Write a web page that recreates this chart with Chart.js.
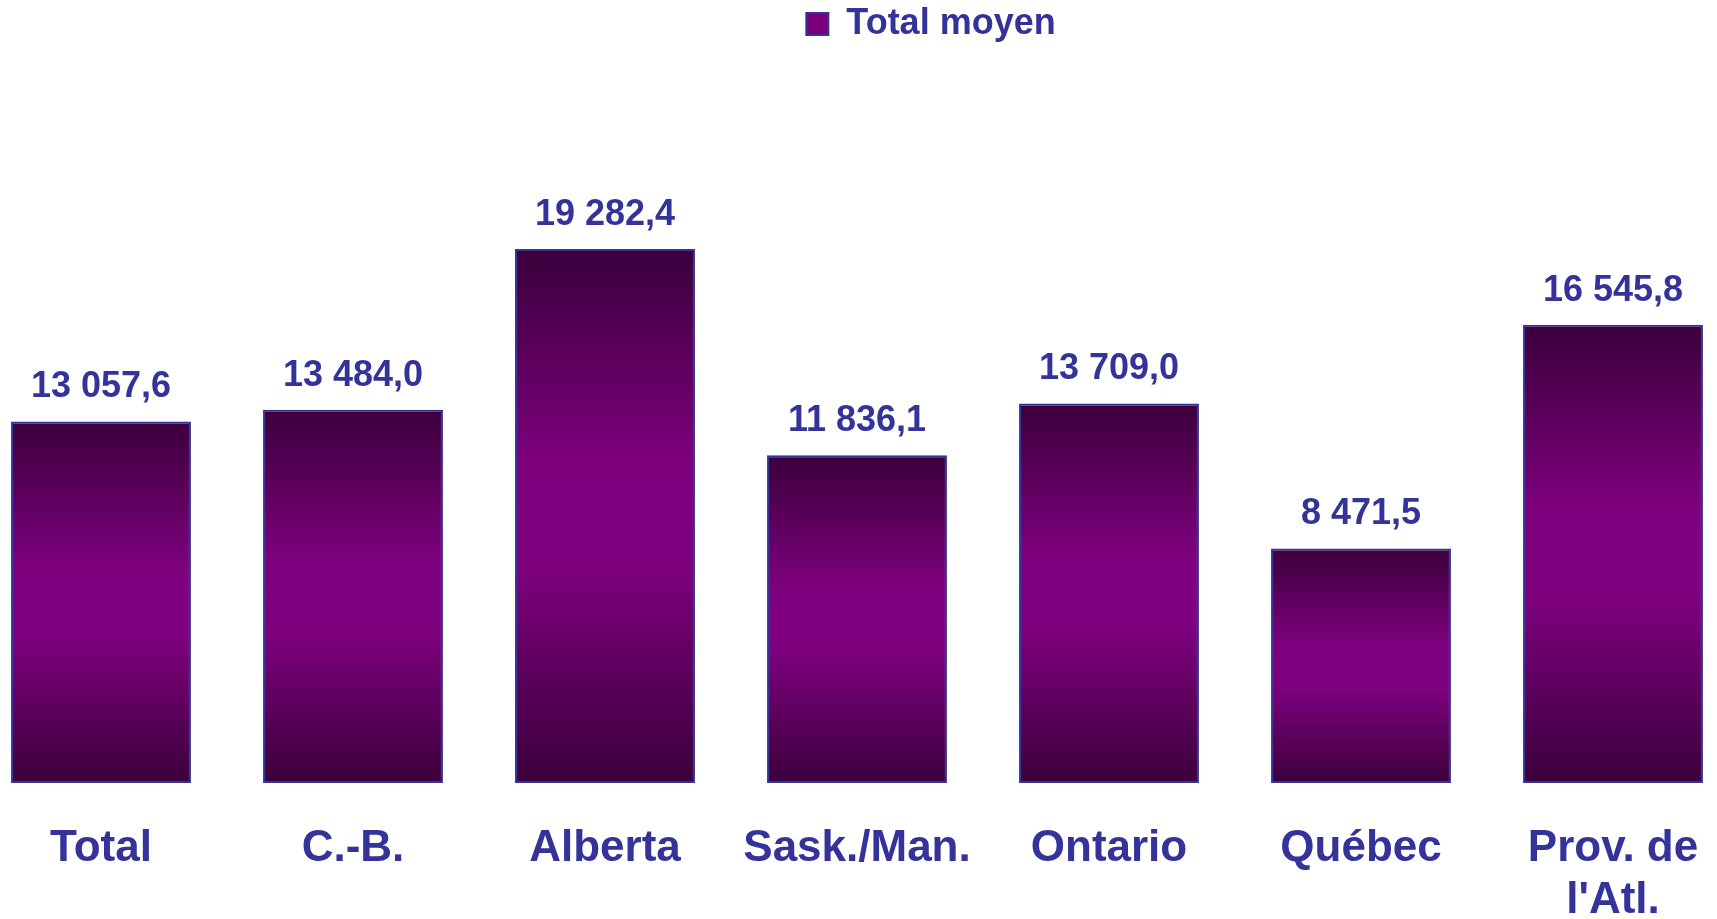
<!DOCTYPE html>
<html lang="fr">
<head>
<meta charset="utf-8">
<title>Total moyen</title>
<script src="https://cdn.jsdelivr.net/npm/chart.js@4.4.1/dist/chart.umd.min.js"></script>
<style>
  html, body { margin: 0; padding: 0; background: #ffffff; }
  #wrap { width: 1717px; height: 919px; position: relative; }
</style>
</head>
<body>
<div id="wrap"><canvas id="moyenChart"></canvas></div>
<script>
// Données
const categories = ['Total', 'C.-B.', 'Alberta', 'Sask./Man.', 'Ontario', 'Québec', ['Prov. de', "l'Atl."]];
const totalMoyen = [13057.6, 13484.0, 19282.4, 11836.1, 13709.0, 8471.5, 16545.8];
const seriesLabel = 'Total moyen';

const textColor = '#333399';
const fontFamily = "'Liberation Sans', Arial, Helvetica, sans-serif";

// Format français : espace pour les milliers, virgule décimale
function formatFr(value) {
    const parts = value.toFixed(1).split('.');
    const entier = parts[0].replace(/\B(?=(\d{3})+(?!\d))/g, ' ');
    return entier + ',' + parts[1];
}

// Dégradé vertical foncé - violet - foncé, propre à chaque barre
function barGradient(context) {
    const chart = context.chart;
    const yScale = chart.scales.y;
    if (context.type !== 'data' || !yScale || !chart.chartArea) return '#800080';
    const top = yScale.getPixelForValue(context.raw);
    const bottom = yScale.getPixelForValue(0);
    if (!isFinite(top) || !isFinite(bottom) || top === bottom) return '#800080';
    const g = chart.ctx.createLinearGradient(0, top, 0, bottom);
    g.addColorStop(0, '#3b003b');
    g.addColorStop(0.4, '#7d007d');
    g.addColorStop(0.5, '#800080');
    g.addColorStop(0.6, '#7d007d');
    g.addColorStop(1, '#3b003b');
    return g;
}

// Étiquettes de valeur au-dessus des barres
const valueLabels = {
    id: 'valueLabels',
    afterDatasetsDraw(chart) {
        const ctx = chart.ctx;
        const meta = chart.getDatasetMeta(0);
        ctx.save();
        ctx.font = 'bold 36px ' + fontFamily;
        ctx.fillStyle = textColor;
        ctx.textAlign = 'center';
        ctx.textBaseline = 'alphabetic';
        meta.data.forEach((bar, i) => {
            ctx.fillText(formatFr(totalMoyen[i]), bar.x, bar.y - 24);
        });
        ctx.restore();
    }
};

// La légende est décalée vers la droite dans l'original
const legendShift = {
    id: 'legendShift',
    afterLayout(chart) {
        if (chart.legend) {
            chart.legend.left += 74;
            chart.legend.right += 74;
        }
    }
};

const ctx = document.getElementById('moyenChart').getContext('2d');

new Chart(ctx, {
    type: 'bar',
    data: {
        labels: categories,
        datasets: [{
            label: seriesLabel,
            data: totalMoyen,
            backgroundColor: barGradient,
            borderColor: textColor,
            borderWidth: 2,
            borderSkipped: false,
            categoryPercentage: 1,
            barPercentage: 0.714,
            clip: false
        }]
    },
    options: {
        responsive: true,
        maintainAspectRatio: false,
        animation: false,
        layout: {
            padding: { left: 101, right: 104, top: 0, bottom: 0 }
        },
        scales: {
            x: {
                offset: false,
                // marques invisibles : elles servent seulement à descendre les libellés
                grid: {
                    display: true,
                    drawOnChartArea: false,
                    drawTicks: true,
                    tickLength: 36,
                    tickColor: 'rgba(0,0,0,0)'
                },
                border: { display: false },
                ticks: {
                    color: textColor,
                    padding: 3,
                    maxRotation: 0,
                    autoSkip: false,
                    font: { family: fontFamily, size: 44, weight: 'bold', lineHeight: 1.2 }
                },
                afterFit(scale) {
                    scale.height = 136;
                }
            },
            y: {
                display: false,
                min: 0,
                max: 26400
            }
        },
        plugins: {
            legend: {
                position: 'top',
                labels: {
                    color: textColor,
                    boxWidth: 22,
                    boxHeight: 22,
                    padding: 6,
                    font: { family: fontFamily, size: 36, weight: 'bold' },
                    generateLabels(chart) {
                        const items = Chart.defaults.plugins.legend.labels.generateLabels(chart);
                        items.forEach(item => { item.fillStyle = '#7a007a'; });
                        return items;
                    }
                }
            },
            tooltip: { enabled: false }
        }
    },
    plugins: [valueLabels, legendShift]
});
</script>
</body>
</html>
